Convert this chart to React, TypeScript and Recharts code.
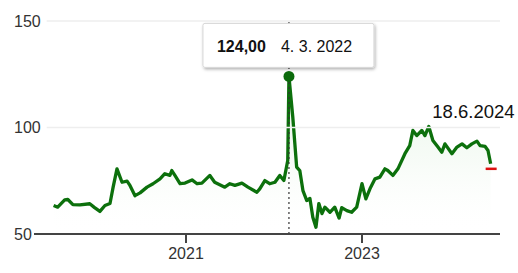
import React from "react";
import { ComposedChart, Area, XAxis, YAxis, ReferenceLine, ReferenceDot } from "recharts";

const dates = [
  "2019-07-01","2019-07-18","2019-08-16","2019-08-29","2019-09-19","2019-10-18","2019-11-28","2019-12-18",
  "2020-01-09","2020-01-30","2020-02-20","2020-03-04","2020-03-20","2020-04-10","2020-05-01","2020-05-13",
  "2020-06-03","2020-06-24","2020-07-23","2020-08-17","2020-09-15","2020-10-05","2020-10-26","2020-11-03",
  "2020-11-16","2020-12-07","2020-12-28","2021-01-26","2021-02-16","2021-03-08","2021-04-10","2021-04-30",
  "2021-06-11","2021-07-02","2021-07-23","2021-08-21","2021-09-15","2021-10-22","2021-11-03","2021-11-24",
  "2021-12-14","2022-01-05","2022-01-25","2022-02-11","2022-02-27","2022-03-04","2022-03-20","2022-04-05",
  "2022-04-18","2022-05-01","2022-05-17","2022-05-30","2022-06-11","2022-06-24","2022-07-06","2022-07-19",
  "2022-07-31","2022-08-21","2022-09-10","2022-09-28","2022-10-09","2022-10-30","2022-11-19","2022-12-10",
  "2023-01-01","2023-01-17","2023-02-03","2023-02-24","2023-03-16","2023-04-06","2023-04-18","2023-05-09",
  "2023-05-30","2023-06-28","2023-07-18","2023-07-31","2023-08-16","2023-09-06","2023-09-19","2023-10-05",
  "2023-10-22","2023-11-12","2023-11-28","2023-12-11","2024-01-09","2024-01-30","2024-02-20","2024-03-11",
  "2024-04-01","2024-04-22","2024-05-05","2024-05-26","2024-06-07","2024-06-18"
];
const prices = [
  63.4,62.6,66.0,66.2,63.8,63.7,64.2,62.4,
  60.6,63.4,64.3,72.0,80.6,74.3,74.8,72.8,
  68.0,69.3,72.0,73.6,75.9,78.3,77.5,79.8,
  77.5,73.6,73.9,75.4,73.6,73.9,77.5,74.3,
  72.0,73.6,72.8,73.9,72.0,69.6,71.2,75.1,
  73.6,74.3,77.5,75.1,84.5,124.0,104.8,81.4,
  79.8,70.4,65.7,66.7,57.9,53.2,64.3,59.6,
  62.6,60.2,62.6,57.5,62.4,61.0,60.2,62.6,
  73.6,66.5,71.2,75.9,76.7,80.6,79.8,77.5,
  80.6,87.7,91.5,98.6,96.2,98.6,96.2,100.5,
  93.9,90.8,88.4,92.3,87.7,90.8,92.3,90.5,
  92.3,93.6,91.5,91.1,89.2,83.0
];
const yTicks = [50, 100, 150];
const xTicks = [2021, 2023];
const peakDate = "2022-03-04";
const peakValue = 124;
const peakValueLabel = "124,00";
const peakDateLabel = "4. 3. 2022";
const lastDate = "2024-06-18";
const lastDateLabel = "18.6.2024";
const markerValue = 80.6;

const toYear = (d: string) => {
  const [y, m, day] = d.split("-").map(Number);
  const start = Date.UTC(y, 0, 1);
  const end = Date.UTC(y + 1, 0, 1);
  return y + (Date.UTC(y, m - 1, day) - start) / (end - start);
};

const data = dates.map((d, i) => ({ t: toYear(d), v: prices[i] }));

const FONT = "'Liberation Sans', Arial, sans-serif";
const W = 518;
const H = 273;
const M = { top: 21, right: 18, bottom: 0, left: 0 };

const YTick = (props: any) => {
  const { y, payload } = props;
  const label = String(payload.value);
  const textW = label.length * 8.9;
  return (
    <g>
      <text x={14} y={y} dy="0.36em" fontSize={16} fontFamily={FONT} fill="#333" textAnchor="start">
        {label}
      </text>
      {payload.value !== yTicks[0] && (
        <line x1={14 + textW + 6} x2={W - M.right} y1={y} y2={y} stroke="#eeeeee" strokeWidth={1.5} />
      )}
    </g>
  );
};

const PeakShape = (props: any) => {
  const { cx, cy } = props;
  return (
    <g>
      <circle cx={cx} cy={cy} r={5.5} fill="#0b6a0b" />
      <rect x={cx - 86} y={cy - 53} width={171} height={44} rx={2} fill="#fff" stroke="#d6d6d6" strokeWidth={1} filter="url(#tipShadow)" />
      <text x={cx - 72} y={cy - 30} dy="0.36em" fontSize={16} fontWeight="bold" fontFamily={FONT} fill="#111">
        {peakValueLabel}
      </text>
      <text x={cx - 8} y={cy - 30} dy="0.36em" fontSize={16} fontFamily={FONT} fill="#111">
        {peakDateLabel}
      </text>
    </g>
  );
};

const EndShape = (props: any) => {
  const { cx, cy } = props;
  return (
    <g>
      <line x1={cx - 5} x2={cx + 6} y1={cy} y2={cy} stroke="#dd1111" strokeWidth={2.5} />
      <text x={cx + 24} y={cy - 57} dy="0.36em" fontSize={18.5} fontFamily={FONT} fill="#111" textAnchor="end">
        {lastDateLabel}
      </text>
    </g>
  );
};

export default function App() {
  return (
    <div style={{ position: "absolute", left: 0, top: 0, width: W, height: H, background: "#fff" }}>
      <ComposedChart width={W} height={H} data={data} margin={M}>
        <defs>
          <linearGradient id="areaFill" x1="0" y1="0" x2="0" y2="1">
            <stop offset="0%" stopColor="#cfeccf" stopOpacity={0.9} />
            <stop offset="55%" stopColor="#eaf6ea" stopOpacity={0.6} />
            <stop offset="100%" stopColor="#ffffff" stopOpacity={0} />
          </linearGradient>
          <filter id="tipShadow" x="-10%" y="-20%" width="130%" height="160%">
            <feDropShadow dx="1" dy="1.5" stdDeviation="1.5" floodColor="#000" floodOpacity="0.3" />
          </filter>
        </defs>
        <XAxis
          dataKey="t"
          type="number"
          domain={[2019.273, 2024.568]}
          ticks={xTicks}
          tickFormatter={(v: number) => String(Math.round(v))}
          allowDataOverflow
          height={39}
          axisLine={{ stroke: "#444", strokeWidth: 2 }}
          tickLine={{ stroke: "#444", strokeWidth: 2 }}
          tickSize={9}
          tickMargin={5}
          tick={{ fontSize: 16, fontFamily: FONT, fill: "#333" }}
        />
        <YAxis
          type="number"
          domain={[50, 150]}
          ticks={yTicks}
          width={34}
          axisLine={false}
          tickLine={false}
          tick={<YTick />}
        />
        <Area
          type="linear"
          dataKey="v"
          stroke="#0c700c"
          strokeWidth={3.3}
          strokeLinejoin="round"
          fill="url(#areaFill)"
          baseValue={50}
          isAnimationActive={false}
          dot={false}
          activeDot={false}
        />
        <ReferenceLine x={toYear(peakDate)} stroke="#333" strokeWidth={1.2} strokeDasharray="2 3" />
        <ReferenceDot x={toYear(peakDate)} y={peakValue} shape={<PeakShape />} />
        <ReferenceDot x={toYear(lastDate)} y={markerValue} shape={<EndShape />} ifOverflow="visible" />
      </ComposedChart>
    </div>
  );
}
